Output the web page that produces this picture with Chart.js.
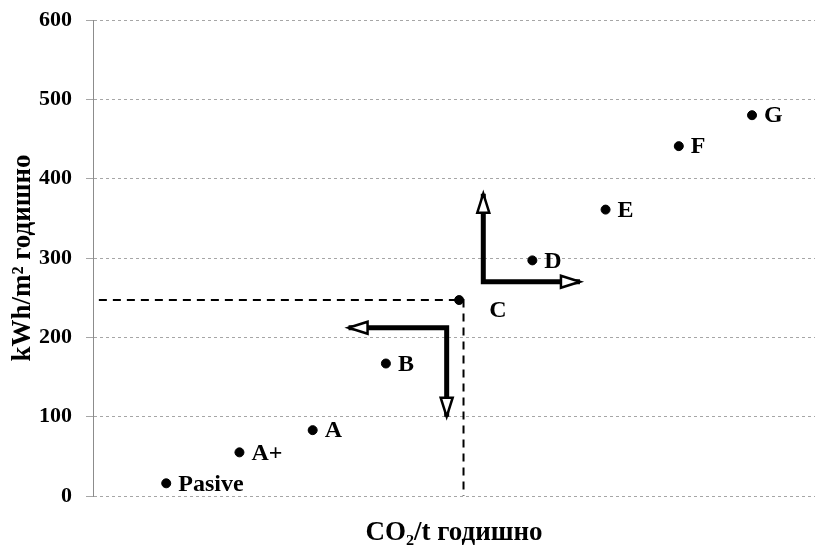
<!DOCTYPE html>
<html>
<head>
<meta charset="utf-8">
<script src="https://cdn.jsdelivr.net/npm/chart.js@4.4.0/dist/chart.umd.min.js"></script>
<style>
html, body { margin: 0; padding: 0; background: #fff; }
#wrap { width: 815px; height: 545px; }
</style>
</head>
<body>
<div id="wrap"><canvas id="myChart"></canvas></div>
<script>
// energy classes and their values
var classes = ['Pasive', 'A+', 'A', 'B', 'C', 'D', 'E', 'F', 'G'];
var co2 = [1, 2, 3, 4, 5, 6, 7, 8, 9];
var kwh = [16, 55, 83, 167, 247, 297, 361, 441, 480];
var yTicks = [0, 100, 200, 300, 400, 500, 600];

// dashed guide from class C to both axes
var guideX = [0.08, 5.06, 5.06];
var guideY = [247, 247, 0];

// the two L-shaped arrows (tip, corner, tip)
var arrowUpX = [5.33, 5.33, 6.65];
var arrowUpY = [381, 270, 270];
var arrowDownX = [3.49, 4.83, 4.83];
var arrowDownY = [212, 212, 100];

var serif = '"Liberation Serif", "Times New Roman", serif';

function pts(xs, ys) {
    var out = [];
    for (var i = 0; i < xs.length; i++) out.push({x: xs[i], y: ys[i]});
    return out;
}

// hollow arrow heads at both ends of the arrow datasets
var arrowHeads = {
    id: 'arrowHeads',
    afterDatasetsDraw: function(chart) {
        var ctx = chart.ctx;
        chart.data.datasets.forEach(function(ds, i) {
            if (!ds.arrows) return;
            var p = chart.getDatasetMeta(i).data;
            var ends = [[p[1], p[0]], [p[p.length - 2], p[p.length - 1]]];
            ends.forEach(function(e) {
                var dx = e[1].x - e[0].x, dy = e[1].y - e[0].y;
                var len = Math.sqrt(dx * dx + dy * dy);
                dx /= len; dy /= len;
                var l = 19, w = 6;
                var bx = e[1].x - dx * l, by = e[1].y - dy * l;
                ctx.save();
                ctx.beginPath();
                ctx.moveTo(e[1].x, e[1].y);
                ctx.lineTo(bx - dy * w, by + dx * w);
                ctx.lineTo(bx + dy * w, by - dx * w);
                ctx.closePath();
                ctx.fillStyle = '#fff';
                ctx.fill();
                ctx.lineWidth = 2.5;
                ctx.strokeStyle = '#000';
                ctx.stroke();
                ctx.restore();
            });
        });
    }
};

// class names next to the points
var pointLabels = {
    id: 'pointLabels',
    afterDatasetsDraw: function(chart) {
        var ctx = chart.ctx;
        var meta = chart.getDatasetMeta(0);
        ctx.save();
        ctx.font = 'bold 24px ' + serif;
        ctx.fillStyle = '#000';
        ctx.textBaseline = 'middle';
        ctx.textAlign = 'left';
        meta.data.forEach(function(pt, i) {
            if (classes[i] === 'C') ctx.fillText(classes[i], pt.x + 30, pt.y + 11);
            else ctx.fillText(classes[i], pt.x + 12, pt.y + 1);
        });
        ctx.restore();
    }
};

var ctx = document.getElementById('myChart').getContext('2d');
var chart = new Chart(ctx, {
    type: 'scatter',
    data: {
        datasets: [{
            label: 'classes',
            data: pts(co2, kwh),
            backgroundColor: '#000',
            borderColor: '#000',
            pointRadius: 4.5,
            pointHoverRadius: 4.5
        }, {
            label: 'guide',
            data: pts(guideX, guideY),
            showLine: true,
            borderColor: '#000',
            borderWidth: 2,
            borderDash: [8, 6],
            pointRadius: 0,
            fill: false
        }, {
            label: 'up',
            data: pts(arrowUpX, arrowUpY),
            showLine: true,
            arrows: true,
            borderColor: '#000',
            borderWidth: 5,
            borderJoinStyle: 'miter',
            pointRadius: 0,
            fill: false
        }, {
            label: 'down',
            data: pts(arrowDownX, arrowDownY),
            showLine: true,
            arrows: true,
            borderColor: '#000',
            borderWidth: 5,
            borderJoinStyle: 'miter',
            pointRadius: 0,
            fill: false
        }]
    },
    options: {
        responsive: true,
        maintainAspectRatio: false,
        animation: false,
        layout: { autoPadding: false, padding: 0 },
        plugins: {
            legend: { display: false },
            tooltip: { enabled: false }
        },
        scales: {
            x: {
                type: 'linear',
                min: 0,
                max: 9.86,
                grid: { display: false },
                border: { display: false },
                ticks: { display: false },
                title: {
                    display: true,
                    text: 'CO₂/t годишно',
                    color: '#000',
                    font: { family: serif, size: 27, weight: 'bold' },
                    padding: { top: 0, bottom: -4 }
                },
                afterFit: function(scale) { scale.height = 49; }
            },
            y: {
                min: 0,
                max: 600,
                afterBuildTicks: function(scale) {
                    scale.ticks = yTicks.map(function(v) { return {value: v}; });
                },
                grid: { color: '#a6a6a6', tickLength: 7, tickColor: '#a6a6a6' },
                border: { display: true, color: '#8c8c8c', width: 1, dash: [3, 3] },
                ticks: {
                    color: '#000',
                    padding: 14,
                    font: { family: serif, size: 22, weight: 'bold' }
                },
                title: {
                    display: true,
                    text: 'kWh/m² годишно',
                    color: '#000',
                    font: { family: serif, size: 27, weight: 'bold' },
                    padding: { top: 7, bottom: 0 }
                },
                afterFit: function(scale) {
                    scale.width = 93;
                    scale.paddingTop = 20;
                    scale.paddingBottom = 0;
                }
            }
        }
    },
    plugins: [arrowHeads, pointLabels]
});
</script>
</body>
</html>
